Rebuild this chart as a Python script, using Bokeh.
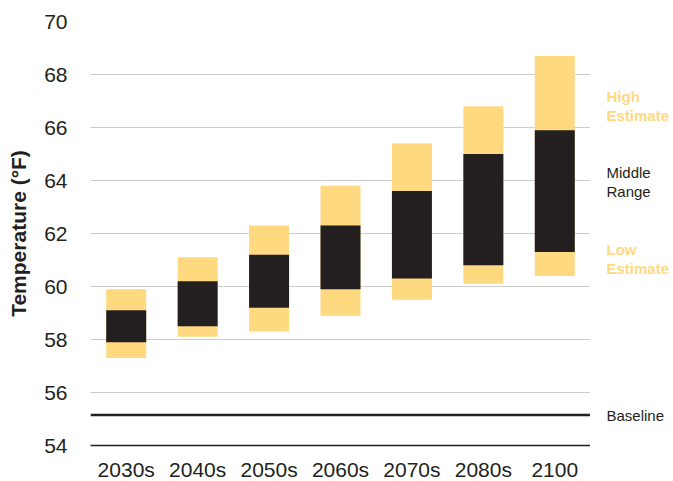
from bokeh.plotting import figure
from bokeh.models import Span, Range1d, FixedTicker, ColumnDataSource
from bokeh.layouts import row
from bokeh.core.properties import value
from bokeh.embed import file_html
from bokeh.resources import INLINE

periods = ["2030s", "2040s", "2050s", "2060s", "2070s", "2080s", "2100"]
high_estimate = [59.9, 61.1, 62.3, 63.8, 65.4, 66.8, 68.7]
middle_top = [59.1, 60.2, 61.2, 62.3, 63.6, 65.0, 65.9]
middle_bottom = [57.9, 58.5, 59.2, 59.9, 60.3, 60.8, 61.3]
low_estimate = [57.3, 58.1, 58.3, 58.9, 59.5, 60.1, 60.4]
baseline = 55.15
y_ticks = [54, 56, 58, 60, 62, 64, 66, 68, 70]

key_texts = ["High", "Estimate", "Middle", "Range", "Low", "Estimate", "Baseline"]
key_y = [67.17, 66.45, 64.30, 63.58, 61.40, 60.68, baseline]

YELLOW = "#FED980"
DARK = "#231F20"
FONT = "Liberation Sans"

y_range = Range1d(54, 70)

p = figure(x_range=periods, y_range=y_range,
           frame_width=500, frame_height=424,
           output_backend="svg", toolbar_location=None,
           min_border_left=90, min_border_right=0, min_border_top=21, min_border_bottom=36)
p.outline_line_color = None
p.background_fill_color = "white"
p.border_fill_color = "white"

p.vbar(x=periods, bottom=low_estimate, top=high_estimate, width=0.56,
       fill_color=YELLOW, line_color=None)
p.vbar(x=periods, bottom=middle_bottom, top=middle_top, width=0.56,
       fill_color=DARK, line_color=None)

p.add_layout(Span(location=baseline, dimension="width", line_color=DARK, line_width=2.5))

p.xgrid.grid_line_color = None
p.ygrid.ticker = FixedTicker(ticks=y_ticks)
p.ygrid.grid_line_color = "#CCCCCC"
p.ygrid.grid_line_width = 1

p.yaxis.ticker = FixedTicker(ticks=y_ticks)
p.yaxis.axis_line_color = None
p.yaxis.major_tick_line_color = None
p.yaxis.minor_tick_line_color = None
p.yaxis.major_label_standoff = 17
p.yaxis.major_label_text_font = FONT
p.yaxis.major_label_text_font_size = "21px"
p.yaxis.major_label_text_color = DARK
p.yaxis.axis_label = "Temperature (°F)"
p.yaxis.axis_label_text_font = FONT
p.yaxis.axis_label_text_font_size = "21px"
p.yaxis.axis_label_text_font_style = "bold"
p.yaxis.axis_label_text_color = DARK
p.yaxis.axis_label_standoff = 11

p.xaxis.axis_line_color = DARK
p.xaxis.axis_line_width = 1.5
p.xaxis.major_tick_line_color = None
p.xaxis.minor_tick_line_color = None
p.xaxis.major_label_standoff = 6
p.xaxis.major_label_text_font = FONT
p.xaxis.major_label_text_font_size = "21px"
p.xaxis.major_label_text_color = DARK

# right-hand key panel
key_src = ColumnDataSource(dict(
    x=[16] * len(key_texts),
    y=key_y,
    text=key_texts,
    color=[YELLOW, YELLOW, DARK, DARK, YELLOW, YELLOW, DARK],
    style=["bold", "bold", "normal", "normal", "bold", "bold", "normal"],
))
k = figure(x_range=Range1d(0, 83), y_range=y_range,
           frame_width=83, frame_height=424,
           output_backend="svg", toolbar_location=None,
           min_border_left=0, min_border_right=0, min_border_top=21, min_border_bottom=36)
k.outline_line_color = None
k.axis.visible = False
k.grid.grid_line_color = None
k.background_fill_color = "white"
k.border_fill_color = "white"
k.text(x="x", y="y", text="text", source=key_src, text_color="color",
       text_font=value(FONT), text_font_size=value("15px"), text_font_style="style",
       text_baseline="middle", text_align="left")

layout = row(p, k)
open("out.html", "w").write(file_html(layout, INLINE))
